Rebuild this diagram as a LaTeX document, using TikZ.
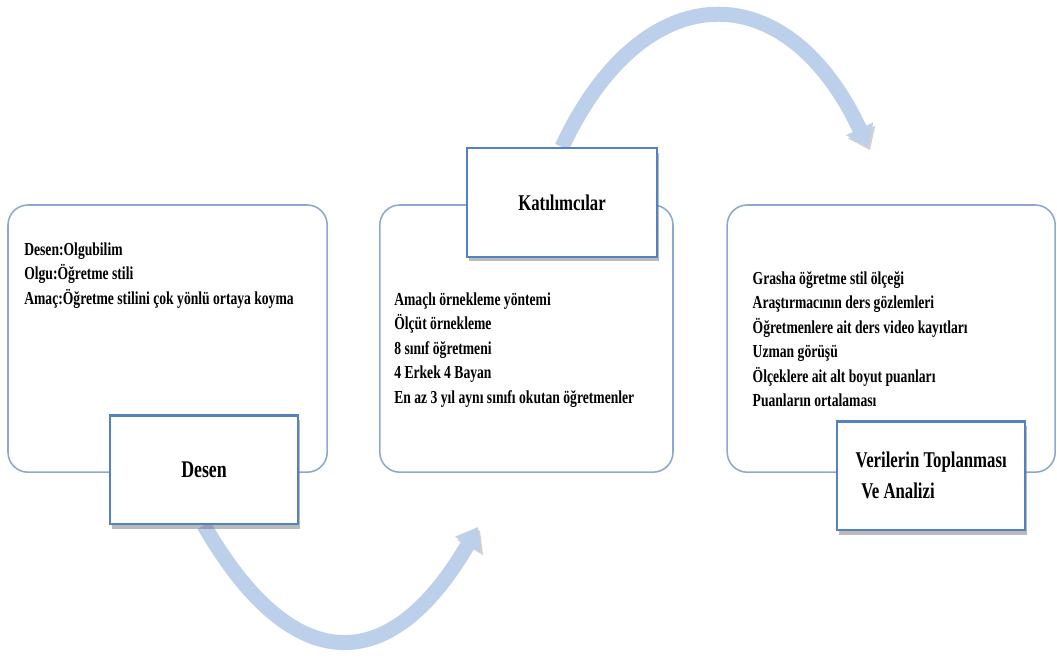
\documentclass[tikz,border=0pt]{standalone}
\usepackage{fontspec}
\setmainfont{Liberation Serif}[FakeStretch=0.745]
\usetikzlibrary{positioning, arrows.meta, shadows, backgrounds}
\definecolor{panelline}{RGB}{141,168,208}
\definecolor{tagline}{RGB}{84,130,192}
\definecolor{flowblue}{RGB}{188,207,235}

\begin{document}
\begin{tikzpicture}[
    panel/.style={rectangle, rounded corners=0.5cm, draw=panelline, line width=1.1pt, fill=white, minimum height=6.68cm},
    tagbox/.style={rectangle, draw=tagline, line width=1.6pt, fill=white, minimum width=4.7cm, minimum height=2.72cm,
        drop shadow={opacity=0.45, fill=black!60, shadow xshift=0.05cm, shadow yshift=-0.11cm}, font=\fontsize{16}{22}\selectfont\bfseries},
    bodytext/.style={inner sep=0pt, align=left, anchor=north west, font=\fontsize{13}{17.4}\selectfont\bfseries},
    flow/.style={line width=0.375cm, draw=flowblue, -{Triangle[width=0.72cm, length=0.5cm]},
        preaction={draw=black!18, transform canvas={shift={(0.05,-0.08)}}}}
]
\useasboundingbox (0,0) rectangle (26.425,16.575);

% panels
\node[panel, minimum width=7.98cm] (desenbox) at (4.19,8.11) {};
\node[panel, minimum width=7.33cm] (katbox) at (13.16,8.11) {};
\node[panel, minimum width=8.2cm] (veribox) at (22.28,8.11) {};

\node[bodytext, below right=0.95cm and 0.42cm of desenbox.north west] (desentext)
    {Desen:Olgubilim\\Olgu:Öğretme stili\\Amaç:Öğretme stilini çok yönlü ortaya koyma};
\node[bodytext, below right=2.2cm and 0.375cm of katbox.north west] (kattext)
    {Amaçlı örnekleme yöntemi\\Ölçüt örnekleme\\8 sınıf öğretmeni\\4 Erkek 4 Bayan\\En az 3 yıl aynı sınıfı okutan öğretmenler};
\node[bodytext, below right=1.675cm and 0.65cm of veribox.north west] (veritext)
    {Grasha öğretme stil ölçeği\\Araştırmacının ders gözlemleri\\Öğretmenlere ait ders video kayıtları\\Uzman görüşü\\Ölçeklere ait alt boyut puanları\\Puanların ortalaması};

% labels
\node[tagbox, font=\fontsize{17}{22}\selectfont\bfseries] (desenlbl) at (5.1,4.83) {Desen};
\node[tagbox, minimum width=4.75cm] (katlbl) at (14.05,11.51) {Katılımcılar};
\node[tagbox, align=left] (verilbl) at (23.28,4.68) {Verilerin Toplanması\\\hspace{0.25em}Ve Analizi};

\coordinate (tip1) at (11.95,3.4);
\coordinate (tip2) at (21.7,12.9);

\begin{scope}[on background layer]
\draw[flow] (desenlbl.south) to[out=-60, in=-120, looseness=1.64] (tip1);
\draw[flow] (katlbl.north) to[out=65, in=115, looseness=1.61] (tip2);
\end{scope}

\end{tikzpicture}
\end{document}
